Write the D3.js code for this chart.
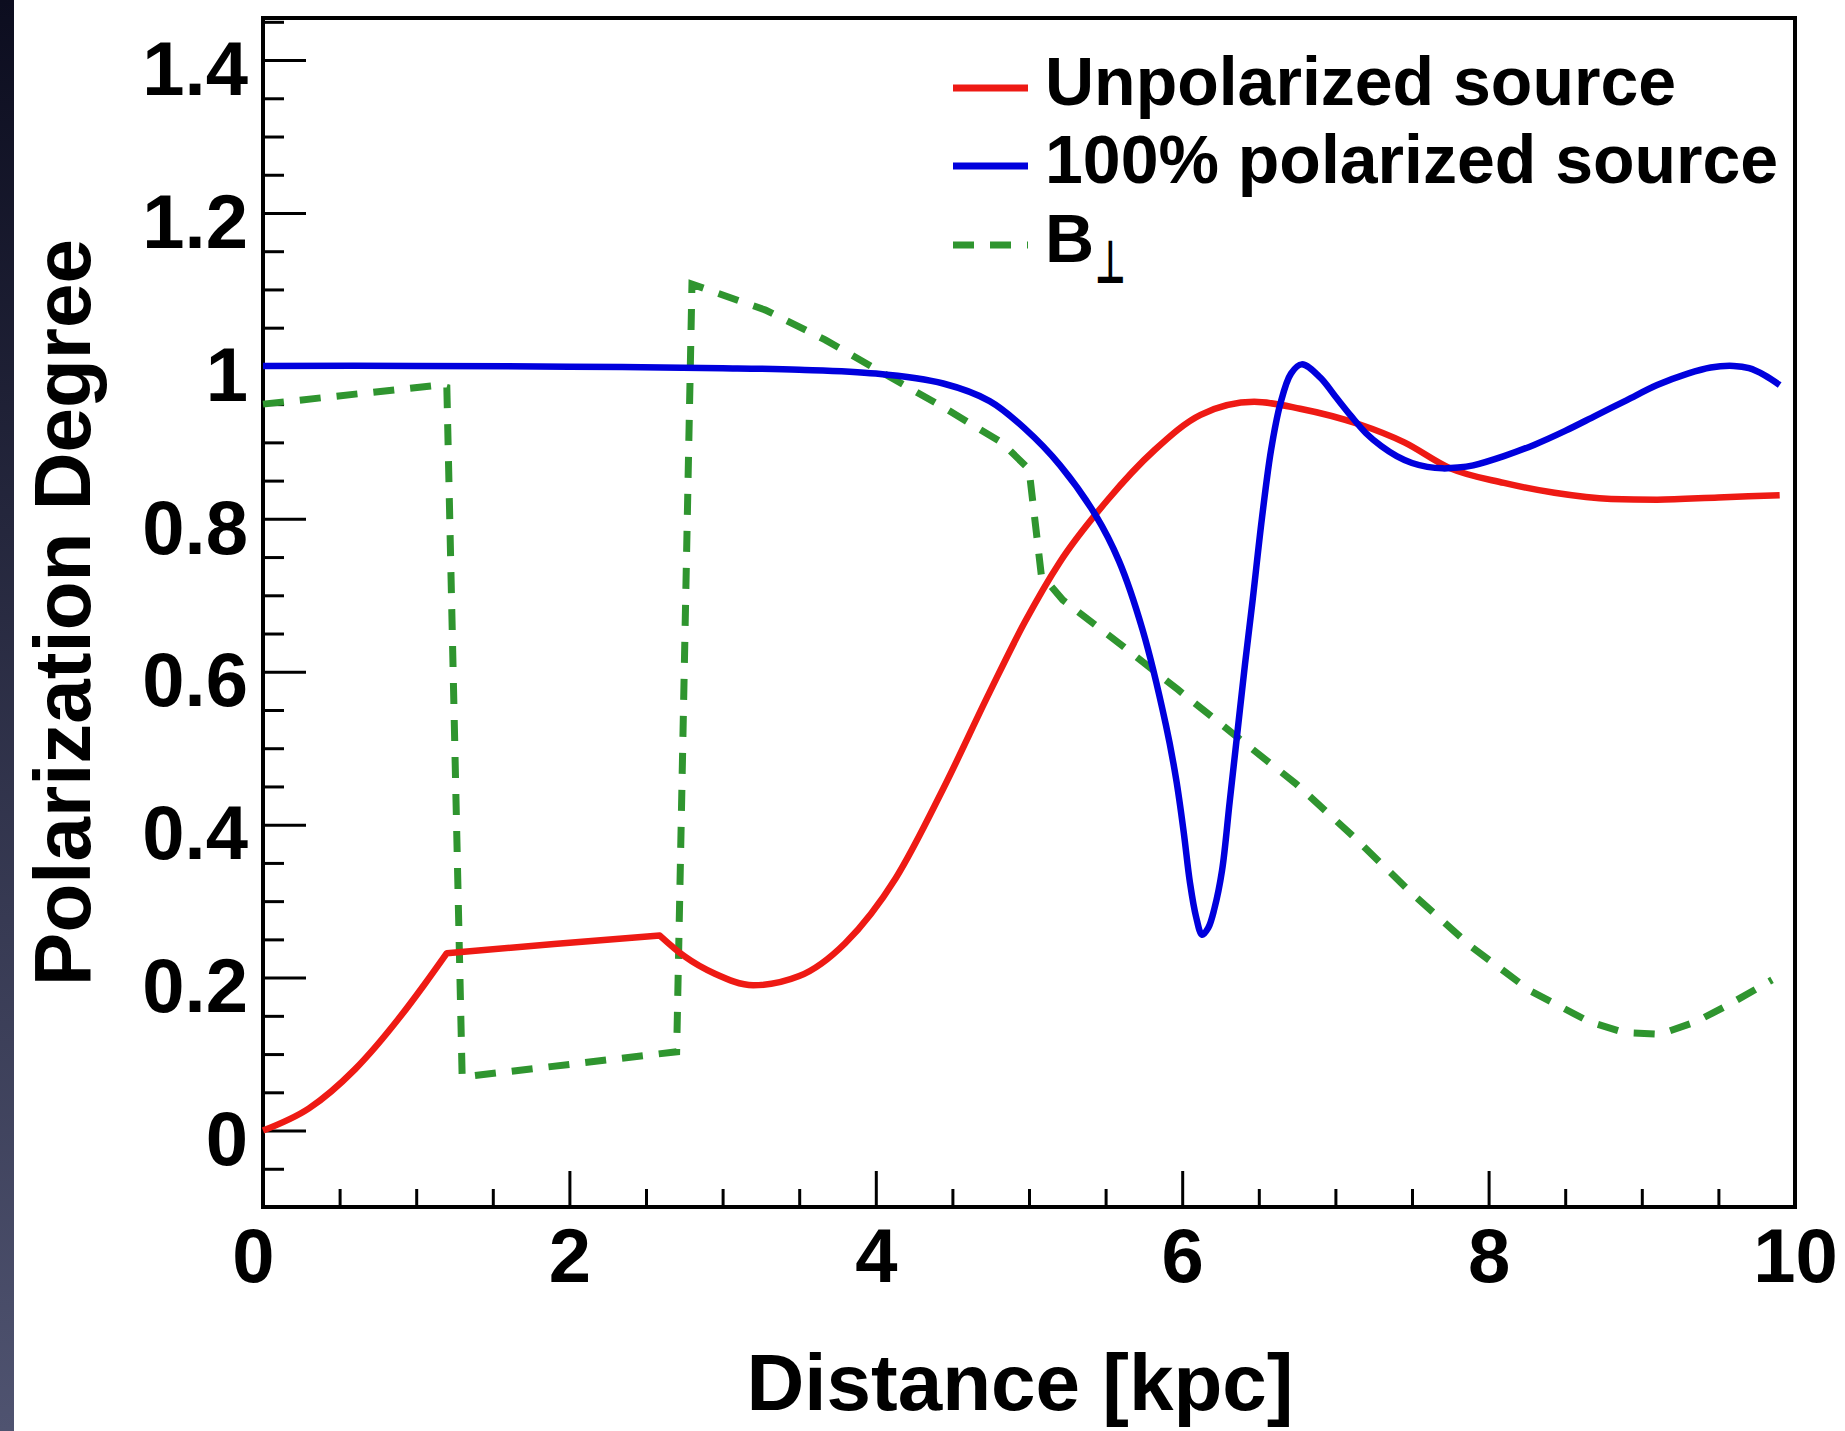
<!DOCTYPE html>
<html>
<head>
<meta charset="utf-8">
<script src="https://cdn.jsdelivr.net/npm/d3@7"></script>
<style>
  body { margin: 0; background: #fff; }
  svg { display: block; font-family: "Liberation Sans", Arial, Helvetica, sans-serif; font-weight: bold; }
</style>
</head>
<body>
<div id="chart"></div>
<script>
// values: distance [kpc] vs polarization degree
var unpolX = [0, 0.3, 0.6, 0.9, 1.05, 1.2, 1.9, 2.59, 2.75, 2.95, 3.2, 3.5, 3.8, 4.13, 4.44, 4.74, 4.97, 5.2, 5.51, 5.82, 6.12, 6.47, 6.77, 7.15, 7.45, 7.75, 8.1, 8.43, 8.8, 9.1, 9.5, 9.9];
var unpolY = [0, 0.029, 0.08, 0.15, 0.19, 0.232, 0.244, 0.255, 0.228, 0.205, 0.19, 0.202, 0.245, 0.33, 0.447, 0.572, 0.664, 0.743, 0.824, 0.89, 0.936, 0.953, 0.944, 0.924, 0.9, 0.866, 0.847, 0.834, 0.826, 0.825, 0.828, 0.831];
// kinks of the unpolarized curve
var unpolBreaks = [1.2, 2.59];

var polX = [0, 1, 2, 3, 3.5, 4, 4.44, 4.743, 4.973, 5.203, 5.434, 5.587, 5.741, 5.894, 5.96, 6.01, 6.05, 6.09, 6.13, 6.17, 6.21, 6.26, 6.31, 6.36, 6.41, 6.46, 6.52, 6.58, 6.64, 6.71, 6.78, 6.9, 7.0, 7.1, 7.2, 7.3, 7.4, 7.5, 7.6, 7.7, 7.8, 7.9, 8.1, 8.3, 8.5, 8.7, 8.9, 9.1, 9.3, 9.45, 9.6, 9.7, 9.8, 9.9];
var polY = [1.0, 1.0, 0.999, 0.997, 0.995, 0.99, 0.977, 0.954, 0.918, 0.87, 0.805, 0.745, 0.655, 0.53, 0.46, 0.39, 0.325, 0.28, 0.256, 0.265, 0.29, 0.34, 0.43, 0.52, 0.61, 0.694, 0.8, 0.89, 0.95, 0.99, 1.002, 0.985, 0.96, 0.935, 0.912, 0.895, 0.882, 0.873, 0.868, 0.866, 0.867, 0.87, 0.882, 0.897, 0.915, 0.935, 0.955, 0.975, 0.99, 0.998, 1.0, 0.997, 0.988, 0.975];

var bperpX = [0, 1.15, 1.2, 1.3, 2.7, 2.8, 3.28, 3.67, 4.07, 4.44, 4.82, 5.0, 5.08, 5.22, 5.59, 5.97, 6.35, 6.74, 7.12, 7.5, 7.89, 8.27, 8.66, 8.89, 9.12, 9.35, 9.58, 9.85];
var bperpY = [0.95, 0.975, 0.972, 0.07, 0.103, 1.107, 1.073, 1.034, 0.988, 0.946, 0.9, 0.865, 0.727, 0.694, 0.637, 0.577, 0.516, 0.454, 0.384, 0.31, 0.24, 0.183, 0.142, 0.128, 0.126, 0.142, 0.166, 0.197];

var xTicks = [0, 2, 4, 6, 8, 10];
var xTickLabels = ["0", "2", "4", "6", "8", "10"];
var yTicks = [0, 0.2, 0.4, 0.6, 0.8, 1, 1.2, 1.4];
var yTickLabels = ["0", "0.2", "0.4", "0.6", "0.8", "1", "1.2", "1.4"];

var legendLabels = ["Unpolarized source", "100% polarized source", "B"];

var width = 1845, height = 1431;
var margin = {top: 18, right: 50, bottom: 224, left: 263};

var x = d3.scaleLinear().domain([0, 10]).range([margin.left, width - margin.right]);
var y = d3.scaleLinear().domain([-0.1, 1.455]).range([height - margin.bottom, margin.top]);

var svg = d3.select("#chart").append("svg")
  .attr("width", width)
  .attr("height", height);

// dark strip on the left edge of the slide
var grad = svg.append("defs").append("linearGradient")
  .attr("id", "strip").attr("x1", 0).attr("y1", 0).attr("x2", 0).attr("y2", 1);
grad.append("stop").attr("offset", "0%").attr("stop-color", "#0c0d1f");
grad.append("stop").attr("offset", "100%").attr("stop-color", "#4f5370");
svg.append("rect").attr("x", 0).attr("y", 0).attr("width", 14).attr("height", height)
  .attr("fill", "url(#strip)");

// minor ticks
var xMinor = d3.range(0.5, 10, 0.5).filter(function(d) { return d % 2 !== 0; });
var yMinor = d3.range(-0.05, 1.46, 0.05).filter(function(d) {
  return Math.abs(Math.round(d * 5) - d * 5) > 1e-6;
});

svg.append("g")
  .attr("transform", "translate(0," + y.range()[0] + ")")
  .call(d3.axisBottom(x).tickValues(xMinor).tickSize(-18).tickFormat(""));
svg.append("g")
  .attr("transform", "translate(" + x.range()[0] + ",0)")
  .call(d3.axisLeft(y).tickValues(yMinor).tickSize(-21).tickFormat(""));

var xAxis = svg.append("g")
  .attr("transform", "translate(0," + y.range()[0] + ")")
  .call(d3.axisBottom(x).tickValues(xTicks).tickSizeInner(-36).tickSizeOuter(0).tickPadding(21)
    .tickFormat(function(d, i) { return xTickLabels[i]; }));

var yAxis = svg.append("g")
  .attr("transform", "translate(" + x.range()[0] + ",0)")
  .call(d3.axisLeft(y).tickValues(yTicks).tickSizeInner(-43).tickSizeOuter(0).tickPadding(15)
    .tickFormat(function(d, i) { return yTickLabels[i]; }));

svg.selectAll(".domain").remove();
svg.selectAll(".tick line").attr("stroke", "#000").attr("stroke-width", 3);
svg.selectAll(".tick text")
  .attr("fill", "#000")
  .style("font-size", "76px")
  .style("font-family", "'Liberation Sans', Arial, sans-serif")
  .style("font-weight", "bold");
yAxis.selectAll(".tick text").attr("dy", "0.45em");
xAxis.selectAll(".tick text").filter(function(d) { return d === 0; }).attr("dx", -10);

// frame
svg.append("rect")
  .attr("x", x.range()[0]).attr("y", y.range()[1])
  .attr("width", x.range()[1] - x.range()[0])
  .attr("height", y.range()[0] - y.range()[1])
  .attr("fill", "none").attr("stroke", "#000").attr("stroke-width", 4);

// curves
function series(xs, ys) {
  return xs.map(function(d, i) { return {x: d, y: ys[i]}; });
}
var monotone = d3.line().x(function(d) { return x(d.x); }).y(function(d) { return y(d.y); })
  .curve(d3.curveMonotoneX);
var catmull = d3.line().x(function(d) { return x(d.x); }).y(function(d) { return y(d.y); })
  .curve(d3.curveCatmullRom.alpha(0.5));
var straight = d3.line().x(function(d) { return x(d.x); }).y(function(d) { return y(d.y); });

svg.append("path").datum(series(bperpX, bperpY))
  .attr("d", straight).attr("fill", "none")
  .attr("stroke", "#2f952f").attr("stroke-width", 7).attr("stroke-dasharray", "21,16");

// unpolarized curve: smooth pieces joined at its kinks
var unpolPts = series(unpolX, unpolY);
var cuts = [0].concat(unpolBreaks.map(function(b) { return unpolX.indexOf(b); }), [unpolPts.length - 1]);
var unpolD = "";
for (var i = 0; i < cuts.length - 1; i++) {
  var piece = monotone(unpolPts.slice(cuts[i], cuts[i + 1] + 1));
  unpolD += i === 0 ? piece : piece.replace(/^M/, "L");
}
svg.append("path")
  .attr("d", unpolD).attr("fill", "none")
  .attr("stroke", "#ee1a14").attr("stroke-width", 6.5).attr("stroke-linejoin", "round");

svg.append("path").datum(series(polX, polY))
  .attr("d", catmull).attr("fill", "none")
  .attr("stroke", "#0000dd").attr("stroke-width", 6.5);

// axis titles
svg.append("text")
  .attr("x", 1020).attr("y", 1410)
  .attr("text-anchor", "middle")
  .style("font-size", "80px")
  .text("Distance [kpc]");

svg.append("text")
  .attr("transform", "translate(90," + ((y.range()[0] + y.range()[1]) / 2) + ") rotate(-90)")
  .attr("text-anchor", "middle")
  .style("font-size", "80px")
  .text("Polarization Degree");

// legend
var legColors = ["#ee1a14", "#0000dd", "#2f952f"];
var legDash = [null, null, "21,16"];
var legBase = [105, 183, 262];

var leg = svg.append("g");
legendLabels.forEach(function(lab, i) {
  leg.append("line")
    .attr("x1", 953).attr("x2", 1028)
    .attr("y1", legBase[i] - 17).attr("y2", legBase[i] - 17)
    .attr("stroke", legColors[i]).attr("stroke-width", 7)
    .attr("stroke-dasharray", legDash[i]);
  leg.append("text")
    .attr("x", 1045).attr("y", legBase[i])
    .style("font-size", "68px")
    .text(lab);
});
// subscript perpendicular sign of B
leg.append("text")
  .attr("transform", "translate(1095," + (legBase[2] + 21) + ") scale(0.7,1.25)")
  .style("font-family", "'DejaVu Sans', sans-serif")
  .style("font-size", "48px")
  .text("\u22A5");
</script>
</body>
</html>
